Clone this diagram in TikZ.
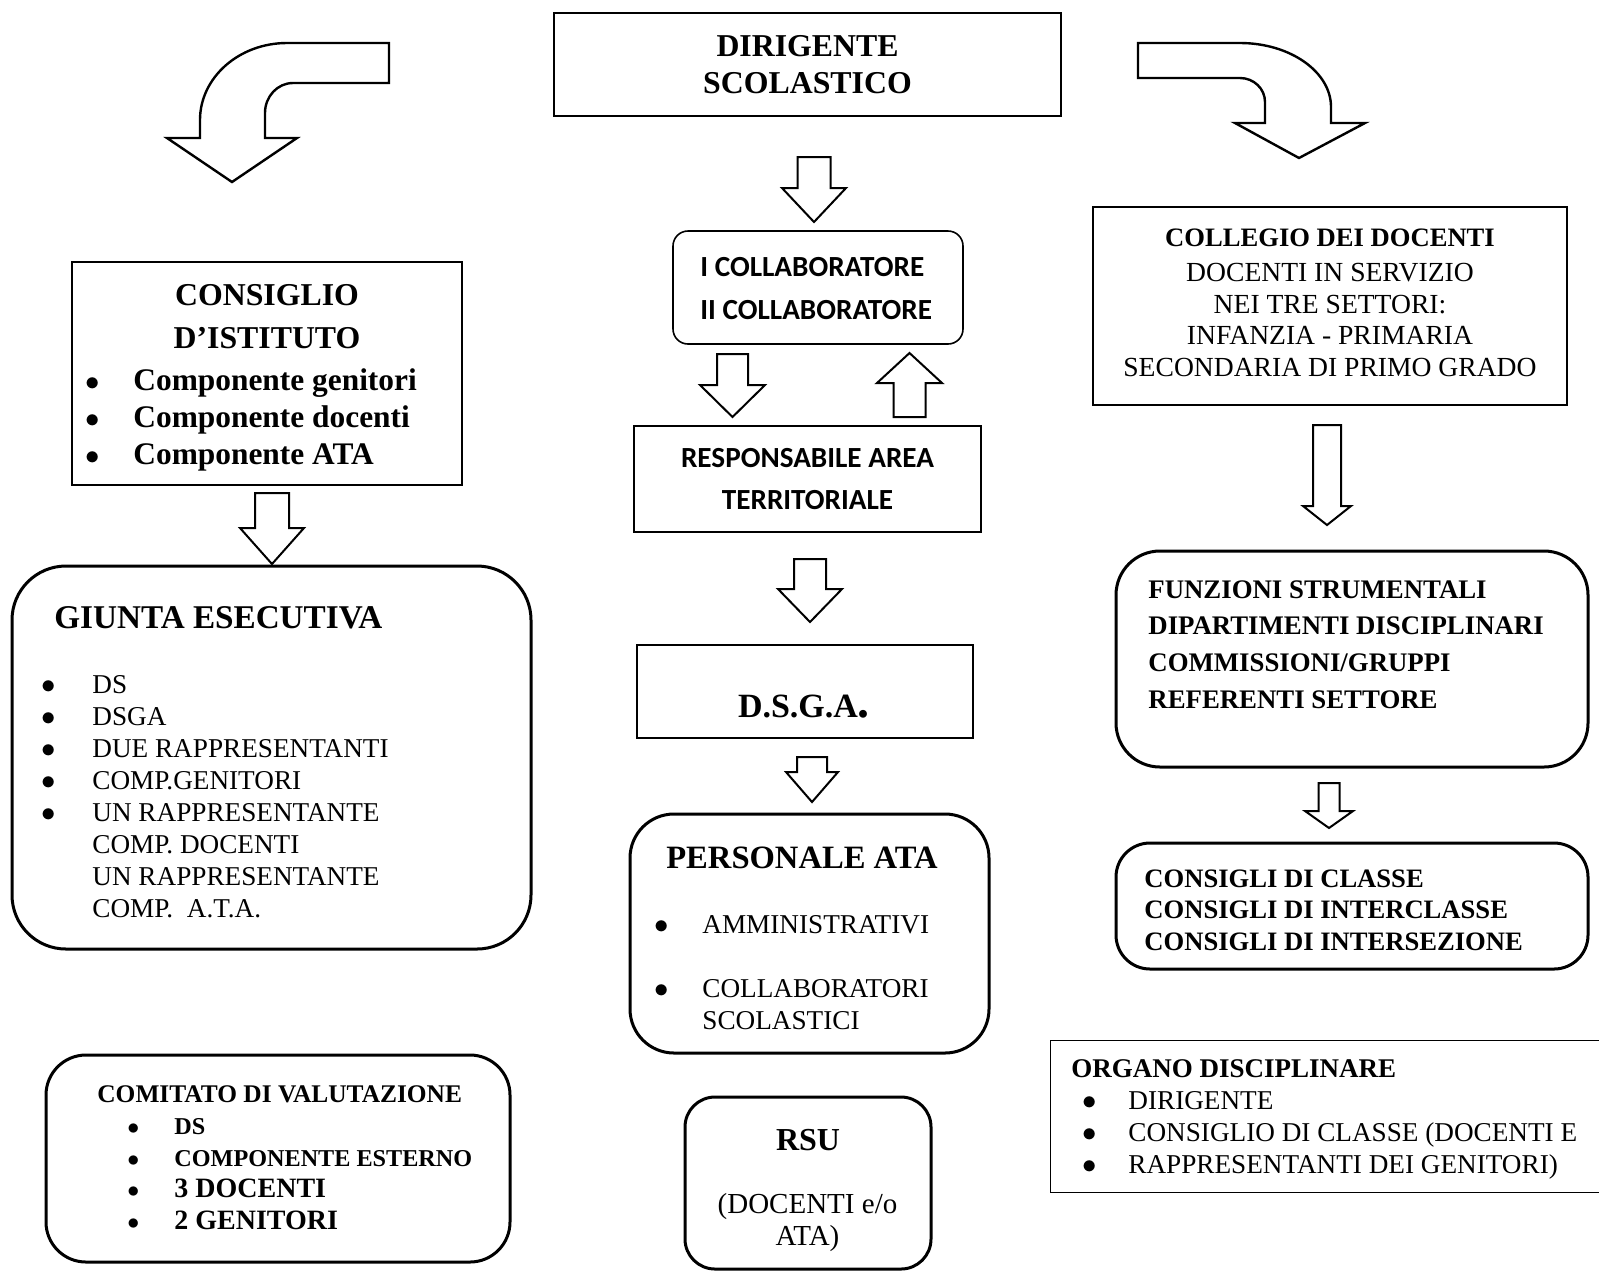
\documentclass[tikz,border=0pt]{standalone}
\usepackage{fontspec}
\setmainfont{Liberation Serif}
\newfontfamily\calibri{Carlito}
\newcommand{\blt}[1]{\makebox[#1][l]{$\bullet$}}

\begin{document}
\begin{tikzpicture}[x=1pt, y=-1pt,
    box/.style={draw=black, line width=1pt, inner sep=0pt},
    rbox/.style={draw=black, line width=1.5pt, inner sep=0pt, rounded corners=#1},
    txt/.style={inner sep=0pt, align=left},
    bigarrow/.style={draw=black, line width=1pt, fill=white, line join=miter}
]
    \fill[white] (0,0) rectangle (799.5,635.5);
    \useasboundingbox (0,0) rectangle (799.5,635.5);

    \node[box, minimum width=253.5pt, minimum height=51.5pt, align=center,
        font=\fontsize{15.9}{18.5}\selectfont\bfseries] (ds) at (403.75,32.25) {DIRIGENTE\\SCOLASTICO};

    \draw[bigarrow, line width=1.2pt] (194.5,21.5) -- (143.5,21.5) .. controls (119.5,21.5) and (100,38.75) .. (100,60)
        -- (100,69) -- (83.5,69) -- (116,91) -- (148.5,69) -- (132.5,69) -- (132.5,56.5)
        .. controls (132.5,48.2) and (138.75,41.5) .. (146.5,41.5) -- (194.5,41.5) -- cycle;
    \draw[bigarrow, line width=1.2pt] (569,21.5) -- (620,21.5) .. controls (645,21.5) and (665.5,35.85) .. (665.5,53.5)
        -- (665.5,61.5) -- (682.5,61.5) -- (649.5,79) -- (617.5,61.5) -- (632.5,61.5) -- (632.5,51)
        .. controls (632.5,44.35) and (626.9,39) .. (620,39) -- (569,39) -- cycle;

    \node[box, minimum width=195pt, minimum height=111.5pt] (ci) at (133.5,186.75) {};
    \node[anchor=north, inner sep=0pt, align=center, font=\fontsize{15.9}{21.5}\selectfont\bfseries] (ciT) at (133.5,142.25) {CONSIGLIO\\D’ISTITUTO};
    \node[txt, anchor=north west, font=\fontsize{15.7}{18.5}\selectfont\bfseries] (ciL) at (42.3,184.2)
        {\blt{24.2pt}Componente genitori\\ \blt{24.2pt}Componente docenti\\ \blt{24.2pt}Componente ATA};

    \node[rbox=27pt, minimum width=259.5pt, minimum height=191.5pt] (gi) at (135.75,378.75) {};
    \node[txt, anchor=north west, font=\fontsize{16.6}{19}\selectfont\bfseries] (giT) at (27,303) {GIUNTA ESECUTIVA};
    \node[txt, anchor=north west, font=\fontsize{13.6}{16}\selectfont] (giL) at (20.6,337.5)
        {\blt{25.4pt}DS\\ \blt{25.4pt}DSGA\\ \blt{25.4pt}DUE RAPPRESENTANTI\\ \blt{25.4pt}COMP.GENITORI\\
         \blt{25.4pt}UN RAPPRESENTANTE\\ \makebox[25.4pt]{}COMP. DOCENTI\\ \makebox[25.4pt]{}UN RAPPRESENTANTE\\
         \makebox[25.4pt]{}COMP.\ \ A.T.A.};

    \node[rbox=20pt, minimum width=232pt, minimum height=103.5pt] (cv) at (139,579.25) {};
    \node[txt, anchor=north west, font=\fontsize{12.7}{15.8}\selectfont\bfseries] (cvT) at (48.5,542.8) {COMITATO DI VALUTAZIONE};
    \node[txt, anchor=north west, font=\fontsize{12.1}{15.8}\selectfont\bfseries] (cvL) at (63.5,559)
        {\blt{23.5pt}DS\\ \blt{23.5pt}COMPONENTE ESTERNO\\
         \blt{23.5pt}{\fontsize{14}{15.8}\selectfont 3 DOCENTI}\\ \blt{23.5pt}{\fontsize{14}{15.8}\selectfont 2 GENITORI}};

    \node[rbox=7.5pt, line width=0.8pt, minimum width=145pt, minimum height=56.5pt] (cb) at (409,143.75) {};
    \node[txt, anchor=north west, font=\fontsize{14.6}{21.5}\selectfont\calibri\bfseries] (cbT) at (350,128.3)
        {I COLLABORATORE\\II COLLABORATORE};

    \node[box, line width=0.8pt, minimum width=173.5pt, minimum height=53pt, align=center,
        font=\fontsize{14.6}{21}\selectfont\calibri\bfseries] (ra) at (403.75,239.5) {RESPONSABILE AREA\\TERRITORIALE};

    \node[box, minimum width=168pt, minimum height=46.5pt] (dsga) at (402.5,345.75) {};
    \node[inner sep=0pt, font=\fontsize{17}{20}\selectfont\bfseries] (dsgaT) at (402,353.5) {D.S.G.A{\fontsize{24}{24}\selectfont.}};

    \node[rbox=22pt, minimum width=179.5pt, minimum height=119.5pt] (pe) at (404.75,466.75) {};
    \node[anchor=north, inner sep=0pt, font=\fontsize{16.3}{19}\selectfont\bfseries] (peT) at (401,423.1) {PERSONALE ATA};
    \node[txt, anchor=north west, font=\fontsize{13.6}{16}\selectfont] (peL) at (327.1,457.5)
        {\blt{23.9pt}AMMINISTRATIVI\\[16pt] \blt{23.9pt}COLLABORATORI\\ \makebox[23.9pt]{}SCOLASTICI};

    \node[rbox=15pt, minimum width=123pt, minimum height=86pt] (rsu) at (404,591.5) {};
    \node[anchor=north, inner sep=0pt, font=\fontsize{16}{19}\selectfont\bfseries] (rsuT) at (404,564.4) {RSU};
    \node[anchor=north, inner sep=0pt, align=center, font=\fontsize{14.5}{16}\selectfont] (rsuL) at (403.75,596.5)
        {(DOCENTI e/o\\ATA)};

    \node[box, minimum width=237pt, minimum height=99pt] (cd) at (665,153) {};
    \node[anchor=north, inner sep=0pt, align=center, font=\fontsize{13.8}{15.8}\selectfont] (cdT) at (665,114)
        {\textbf{\fontsize{13.3}{15.8}\selectfont COLLEGIO DEI DOCENTI}\\[2pt] DOCENTI IN SERVIZIO\\NEI TRE SETTORI:\\
         INFANZIA - PRIMARIA\\SECONDARIA DI PRIMO GRADO};

    \node[rbox=22pt, minimum width=236pt, minimum height=108pt] (fs) at (676,329.5) {};
    \node[txt, anchor=north west, font=\fontsize{13.4}{18.3}\selectfont\bfseries] (fsT) at (574,290.1)
        {FUNZIONI STRUMENTALI\\DIPARTIMENTI DISCIPLINARI\\COMMISSIONI/GRUPPI\\REFERENTI SETTORE};

    \node[rbox=17pt, minimum width=236pt, minimum height=63pt] (cc) at (676,453) {};
    \node[txt, anchor=north west, font=\fontsize{13.3}{15.75}\selectfont\bfseries] (ccT) at (572,434.6)
        {CONSIGLI DI CLASSE\\CONSIGLI DI INTERCLASSE\\CONSIGLI DI INTERSEZIONE};

    \node[box, line width=0.5pt, minimum width=280pt, minimum height=76pt] (od) at (665,558) {};
    \node[txt, anchor=north west, font=\fontsize{13.5}{16}\selectfont\bfseries] (odT) at (535.5,529.5) {ORGANO DISCIPLINARE};
    \node[txt, anchor=north west, font=\fontsize{13.6}{16}\selectfont] (odL) at (541.1,545.5)
        {\blt{22.9pt}DIRIGENTE\\ \blt{22.9pt}CONSIGLIO DI CLASSE (DOCENTI E\\ \blt{22.9pt}RAPPRESENTANTI DEI GENITORI)};

    \draw[bigarrow] (398.75,78.5) -- (415.25,78.5) -- (415.25,94) -- (423,94) -- (407,111) -- (391,94) -- (398.75,94) -- cycle;
    \draw[bigarrow] (358.5,177) -- (374,177) -- (374,192.5) -- (382.5,192.5) -- (366.25,208.5) -- (350,192.5) -- (358.5,192.5) -- cycle;
    \draw[bigarrow] (446.75,208.5) -- (462.75,208.5) -- (462.75,191.5) -- (471,191.5) -- (454.75,176.5) -- (438.5,191.5) -- (446.75,191.5) -- cycle;
    \draw[bigarrow] (127.5,246.5) -- (144.5,246.5) -- (144.5,264) -- (152,264) -- (136,282) -- (120,264) -- (127.5,264) -- cycle;
    \draw[bigarrow] (397,279.5) -- (413,279.5) -- (413,294.5) -- (421,294.5) -- (405,311) -- (389,294.5) -- (397,294.5) -- cycle;
    \draw[bigarrow] (398.5,378.5) -- (413.5,378.5) -- (413.5,386) -- (419,386) -- (406,401) -- (393,386) -- (398.5,386) -- cycle;
    \draw[bigarrow] (656.5,212.5) -- (670.5,212.5) -- (670.5,253) -- (675.5,253) -- (663.5,262.5) -- (651.5,253) -- (656.5,253) -- cycle;
    \draw[bigarrow] (659.25,391.5) -- (669.75,391.5) -- (669.75,405.5) -- (676.5,405.5) -- (664.5,414) -- (652.5,405.5) -- (659.25,405.5) -- cycle;
\end{tikzpicture}
\end{document}
